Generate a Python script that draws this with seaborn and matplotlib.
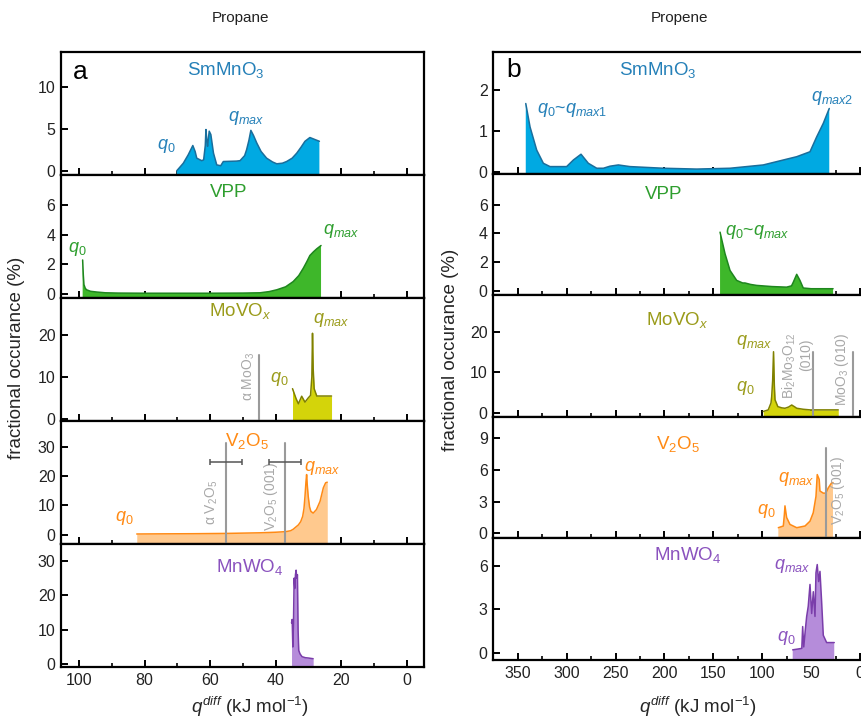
import numpy as np
import pandas as pd
import matplotlib
matplotlib.use("Agg")
import matplotlib.pyplot as plt
import seaborn as sns

sns.set_style("ticks")
plt.rcParams['font.family'] = ['Liberation Sans', 'DejaVu Sans']
plt.rcParams['mathtext.fontset'] = 'custom'
plt.rcParams['mathtext.rm'] = 'Liberation Sans'
plt.rcParams['mathtext.it'] = 'Liberation Sans:italic'
plt.rcParams['mathtext.bf'] = 'Liberation Sans:bold'

# ---------------- data (Propane, panel a) ----------------
a_sm_q = [70.2, 68.2, 66.7, 65.3, 64.6, 64.1, 62.6, 62.0, 61.5, 61.3, 61.0, 60.8, 60.5, 60.3, 59.8, 59.0, 58.0,
          56.8, 56.0, 52.0, 50.9, 49.5, 48.9, 48.2, 47.6, 46.8, 45.8, 44.5, 42.8, 41.0, 39.7, 38.0, 36.7, 35.0,
          33.6, 32.3, 31.1, 29.6, 28.0, 26.7]
a_sm_v = [0.0, 0.9, 1.9, 3.0, 2.3, 1.5, 1.2, 1.3, 3.0, 4.9, 3.5, 2.9, 4.0, 4.7, 4.3, 2.1, 0.7,
          0.6, 1.1, 1.15, 1.2, 1.8, 2.5, 3.6, 4.8, 4.2, 3.3, 2.3, 1.5, 1.05, 0.83, 0.9, 1.1, 1.5,
          2.1, 2.8, 3.5, 3.95, 3.7, 3.5]

a_vpp_q = [98.9, 98.7, 98.5, 98.1, 97.7, 96.5, 94.6, 92, 88, 80, 70, 60, 50, 44.8, 42, 39.7, 37, 34.7, 33,
           31.6, 30.5, 29.6, 28.5, 27.5, 26.2]
a_vpp_v = [2.3, 1.3, 0.65, 0.4, 0.3, 0.2, 0.15, 0.1, 0.08, 0.07, 0.07, 0.07, 0.08, 0.1, 0.18, 0.3, 0.5, 0.85,
           1.25, 1.75, 2.2, 2.6, 2.85, 3.05, 3.27]

a_mov_q = [34.9, 33.8, 33.1, 32.1, 31.1, 30.1, 29.4, 29.0, 28.8, 28.6, 28.3, 27.5, 25.0, 23.0]
a_mov_v = [7.2, 4.8, 3.6, 5.4, 4.0, 5.0, 5.6, 10.0, 20.4, 12.0, 7.2, 5.45, 5.45, 5.45]

a_v2o5_q = [82.4, 75, 65, 55, 45, 40, 37, 35.5, 34.7, 33.1, 32.4, 31.8, 31.4, 31.1, 30.8, 30.6, 30.4, 30.1,
            29.7, 29.3, 28.6, 27.6, 26.5, 25.5, 24.8, 24.3]
a_v2o5_v = [0.3, 0.35, 0.4, 0.5, 0.7, 0.9, 1.1, 1.4, 1.9, 3.4, 4.5, 6.3, 9.0, 13.0, 18.0, 20.5, 17.0, 13.0,
            9.5, 8.0, 7.4, 8.6, 11.4, 16.0, 17.7, 17.9]

a_mnw_q = [35.2, 35.0, 34.8, 34.6, 34.4, 34.2, 34.0, 33.8, 33.6, 33.4, 33.2, 33.0, 32.6, 32.0, 31.0, 30.0, 28.6]
a_mnw_v = [12, 13, 5, 12, 25, 22, 26, 27.3, 25, 26, 10, 4, 3, 2.2, 1.9, 1.8, 1.6]

# ---------------- data (Propene, panel b) ----------------
b_sm_q = [341.8, 337.4, 330.6, 323.8, 317, 300, 293.1, 285.3, 277.8, 269.2, 262.4, 255.6, 247.1, 235.2,
          201.1, 167, 132.9, 98.9, 78.4, 64.7, 51.1, 44.3, 37.5, 31.4]
b_sm_v = [1.67, 1.1, 0.54, 0.22, 0.14, 0.14, 0.3, 0.44, 0.22, 0.1, 0.1, 0.15, 0.18, 0.14,
          0.1, 0.08, 0.1, 0.18, 0.3, 0.38, 0.5, 0.86, 1.19, 1.55]

b_vpp_q = [143.1, 138, 132.9, 126.1, 120, 117.6, 112, 105.6, 90, 75, 70, 68.2, 64.7, 61.4, 58, 50, 40, 27.5]
b_vpp_v = [4.08, 2.58, 1.42, 0.73, 0.55, 0.55, 0.45, 0.38, 0.3, 0.26, 0.35, 0.6, 1.15, 0.73, 0.2, 0.15, 0.15, 0.15]

b_mov_q = [98.9, 93.8, 91, 90.3, 89.3, 88.4, 87.6, 86.9, 84, 80, 76.7, 73, 69.8, 66.5, 64.7, 58, 51.1, 40, 22.2]
b_mov_v = [0.4, 0.8, 2.5, 4, 8, 15.1, 7, 3.3, 1.6, 1.3, 1.2, 1.5, 2.0, 1.5, 1.2, 0.95, 0.8, 0.8, 0.8]

b_v2o5_q = [83.5, 78.4, 77.3, 76.7, 75, 71.6, 64.7, 56.2, 51.1, 47.8, 45, 43.7, 41.7, 40.9, 37.5, 35, 32.4, 29, 27.6]
b_v2o5_v = [0.54, 0.7, 1.8, 2.6, 1.5, 0.85, 0.54, 0.7, 1.16, 1.95, 3.5, 5.55, 5.1, 4.0, 3.8, 3.8, 4.3, 4.77, 4.8]

b_mnw_q = [68.8, 64, 59.5, 58.6, 57.5, 56, 54.5, 52.9, 51.1, 49.4, 47.7, 46, 45, 43.7, 42.3, 40.9, 39.2, 37.5,
           34.1, 30, 26.3]
b_mnw_v = [0.2, 0.25, 0.3, 1.8, 0.4, 1.5, 2.5, 3.2, 4.7, 2.7, 4.2, 2.5, 5.5, 6.07, 4.9, 5.6, 3.5, 1.2,
           0.7, 0.7, 0.7]

names = ['SmMnO$_3$', 'VPP', 'MoVO$_x$', 'V$_2$O$_5$', 'MnWO$_4$']
fill_cols = ['#00A9E2', '#3EB72A', '#D4D40A', '#FFC98E', '#B58CDA']
line_cols = ['#1A6E9C', '#1E861E', '#7F8000', '#FF8A14', '#7A3DAA']
text_cols = ['#2580B8', '#2E9E2E', '#9A9B1A', '#FF8A14', '#8A52BE']

a_series = [(a_sm_q, a_sm_v), (a_vpp_q, a_vpp_v), (a_mov_q, a_mov_v), (a_v2o5_q, a_v2o5_v), (a_mnw_q, a_mnw_v)]
b_series = [(b_sm_q, b_sm_v), (b_vpp_q, b_vpp_v), (b_mov_q, b_mov_v), (b_v2o5_q, b_v2o5_v), (b_mnw_q, b_mnw_v)]

a_ylims = [(-0.5, 14.1), (-0.25, 8.0), (-0.5, 28.8), (-3.1, 38.7), (-0.8, 34.9)]
b_ylims = [(-0.03, 2.92), (-0.3, 8.15), (-0.9, 29.0), (-0.47, 11.0), (-0.5, 7.87)]
a_yticks = [[0, 5, 10], [0, 2, 4, 6], [0, 10, 20], [0, 10, 20, 30], [0, 10, 20, 30]]
b_yticks = [[0, 1, 2], [0, 2, 4, 6], [0, 10, 20], [0, 3, 6, 9], [0, 3, 6]]

W, H = 861, 719
fig = plt.figure(figsize=(W / 100, H / 100), dpi=100)

def make_axes(left_px, right_px, top_px, bottom_px):
    axs = []
    h = (bottom_px - top_px) / 5
    for i in range(5):
        t = top_px + i * h
        axs.append(fig.add_axes([left_px / W, 1 - (t + h) / H, (right_px - left_px) / W, h / H]))
    return axs

axA = make_axes(61, 424, 52, 667)
axB = make_axes(493.3, 871.7, 52, 660)

GREY = '#9A9A9A'

def draw(ax, q, v, i, ylim):
    df = pd.DataFrame({'q': q, 'v': v})
    ax.fill_between(df['q'], df['v'], ylim[0] - 100, color=fill_cols[i], lw=0, zorder=1)
    sns.lineplot(data=df, x='q', y='v', ax=ax, color=line_cols[i], lw=1.1, estimator=None, sort=False, zorder=2)
    ax.set_ylim(*ylim)
    ax.set_xlabel('')
    ax.set_ylabel('')

def style(ax, xlim, yt, major, minor, last):
    ax.set_xlim(*xlim)
    ax.set_yticks(yt)
    ax.xaxis.set_major_locator(matplotlib.ticker.MultipleLocator(major))
    ax.xaxis.set_minor_locator(matplotlib.ticker.MultipleLocator(minor))
    ax.tick_params(axis='both', which='major', direction='in', length=5, width=1.4, labelsize=11.5,
                   color='black', labelcolor='#222222', pad=4)
    ax.tick_params(axis='x', which='minor', direction='in', length=3, width=1.2, color='black')
    ax.tick_params(axis='y', which='minor', left=False)
    for s in ax.spines.values():
        s.set_linewidth(1.6)
        s.set_color('black')
    if not last:
        ax.tick_params(axis='x', labelbottom=False)

for i in range(5):
    draw(axA[i], *a_series[i], i, a_ylims[i])
    style(axA[i], (105.5, -5.2), a_yticks[i], 20, 10, i == 4)
    draw(axB[i], *b_series[i], i, b_ylims[i])
    style(axB[i], (375, -12), b_yticks[i], 50, 25, i == 4)

LF = 13.5
QF = 13
def qlab(ax, x, y, s, i, **kw):
    ax.text(x, y, s, color=text_cols[i], fontsize=QF, ha='center', va='center', **kw)

# ---- panel a annotations ----
axA[0].text(99.7, 11.7, 'a', fontsize=19, ha='center', va='center', color='black')
for i, (x, y) in enumerate([(55.2, 12.0), (54.3, 6.8), (50.9, 25.6), (48.8, 32.0), (47.9, 28.3)]):
    axA[i].text(x, y, names[i], color=text_cols[i], fontsize=LF, ha='center', va='center')
qlab(axA[0], 73.5, 2.9, r'$q_{\mathit{0}}$', 0)
qlab(axA[0], 49.0, 6.3, r'$q_{max}$', 0)
qlab(axA[1], 100.6, 3.05, r'$q_{\mathit{0}}$', 1)
qlab(axA[1], 20.1, 4.25, r'$q_{max}$', 1)
qlab(axA[2], 23.2, 23.6, r'$q_{max}$', 2)
qlab(axA[2], 39.0, 9.6, r'$q_{\mathit{0}}$', 2)
qlab(axA[3], 25.9, 22.8, r'$q_{max}$', 3)
qlab(axA[3], 86.3, 5.8, r'$q_{\mathit{0}}$', 3)

# reference lines panel a
axA[2].plot([45.0, 45.0], [-5, 15.2], color=GREY, lw=1.5, zorder=3)
axA[2].text(48.2, 10.0, r'α MoO$_3$', rotation=90, color='#A8A8A8', fontsize=10, ha='center', va='center')
for xl, lab, ty in [(55.2, r'α V$_2$O$_5$', 11.0), (37.2, r'V$_2$O$_5$ (001)', 13.0)]:
    axA[3].plot([xl, xl], [-10, 31.2], color=GREY, lw=1.5, zorder=3)
    axA[3].errorbar([xl], [24.9], xerr=[[5.0], [5.0]], fmt='none', ecolor='#555555', elinewidth=1.1,
                    capsize=2.5, capthick=1.1, zorder=4)
    axA[3].text(xl + 4.3, ty, lab, rotation=90, color='#A8A8A8', fontsize=10, ha='center', va='center')

# ---- panel b annotations ----
axB[0].text(354.7, 2.48, 'b', fontsize=19, ha='center', va='center', color='black')
for i, (x, y) in enumerate([(206.5, 2.48), (201.2, 6.7), (187, 22.9), (185.8, 8.4), (176.4, 6.7)]):
    axB[i].text(x, y, names[i], color=text_cols[i], fontsize=LF, ha='center', va='center')
qlab(axB[0], 294.5, 1.51, r'$q_{\mathit{0}}$~$q_{max1}$', 0)
qlab(axB[0], 28.6, 1.8, r'$q_{max2}$', 0)
qlab(axB[1], 104.8, 4.08, r'$q_{\mathit{0}}$~$q_{max}$', 1)
qlab(axB[2], 108.4, 17.5, r'$q_{max}$', 2)
qlab(axB[2], 117.5, 6.1, r'$q_{\mathit{0}}$', 2)
qlab(axB[3], 65.5, 5.1, r'$q_{max}$', 3)
qlab(axB[3], 96.3, 2.1, r'$q_{\mathit{0}}$', 3)
qlab(axB[4], 69.8, 5.95, r'$q_{max}$', 4)
qlab(axB[4], 75.0, 1.0, r'$q_{\mathit{0}}$', 4)

for xl in [47.8, 7.5]:
    axB[2].plot([xl, xl], [-5, 15.1], color=GREY, lw=1.5, zorder=3)
axB[2].text(72.5, 11.6, r'Bi$_2$Mo$_3$O$_{12}$', rotation=90, color='#A8A8A8', fontsize=10, ha='center', va='center')
axB[2].text(55.5, 14.3, '(010)', rotation=90, color='#A8A8A8', fontsize=10, ha='center', va='center')
axB[2].text(18.5, 10.9, r'MoO$_3$ (010)', rotation=90, color='#A8A8A8', fontsize=10, ha='center', va='center')
axB[3].plot([35.1, 35.1], [-5, 8.06], color=GREY, lw=1.5, zorder=3)
axB[3].text(22.5, 4.1, r'V$_2$O$_5$ (001)', rotation=90, color='#A8A8A8', fontsize=10, ha='center', va='center')

# ---- figure texts ----
fig.text(241 / W, 1 - 18 / H, 'Propane', fontsize=11, ha='center', va='center', color='#222222')
fig.text(680 / W, 1 - 18 / H, 'Propene', fontsize=11, ha='center', va='center', color='#222222')
fig.text(17 / W, 1 - 358 / H, 'fractional occurance (%)', rotation=90, fontsize=13.5, ha='center', va='center')
fig.text(450 / W, 1 - 350 / H, 'fractional occurance (%)', rotation=90, fontsize=13.5, ha='center', va='center')
xl = r'$q^{diff}$ (kJ mol$^{-1}$)'
fig.text(250 / W, 1 - 707 / H, xl, fontsize=13.5, ha='center', va='center')
fig.text(698 / W, 1 - 707 / H, xl, fontsize=13.5, ha='center', va='center')

fig.savefig('out.png', dpi=100)
